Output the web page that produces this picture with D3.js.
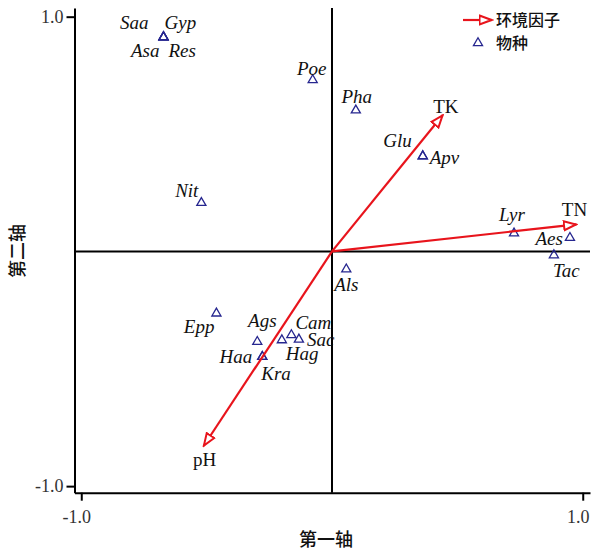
<!DOCTYPE html>
<html>
<head>
<meta charset="utf-8">
<script src="https://cdn.jsdelivr.net/npm/d3@7"></script>
<style>
  body { margin: 0; background: #fff; }
  svg { display: block; }
  .tick text { font-family: "Liberation Serif", "DejaVu Serif", serif; font-size: 18px; fill: #333; }
  .sp { font-family: "Liberation Serif", serif; font-style: italic; font-size: 19px; fill: #111; }
  .env { font-family: "Liberation Serif", serif; font-size: 19px; fill: #111; }
  .cjk { font-family: "Noto Sans CJK SC", sans-serif; font-weight: 500; fill: #111; }
</style>
</head>
<body>
<div id="chart"></div>
<script>
// species scores (axis 1, axis 2)
var species = ["Saa", "Gyp", "Asa", "Res", "Poe", "Pha", "Glu", "Apv", "Nit", "Als",
               "Lyr", "Aes", "Tac", "Epp", "Ags", "Haa", "Hag", "Cam", "Sac", "Kra"];
var speciesX = [-0.672, -0.672, -0.672, -0.672, -0.077, 0.095, 0.362, 0.362, -0.521, 0.057,
                0.726, 0.949, 0.885, -0.461, -0.298, -0.278, -0.200, -0.162, -0.132, -0.278];
var speciesY = [0.913, 0.913, 0.913, 0.913, 0.730, 0.601, 0.406, 0.406, 0.207, -0.076,
                0.077, 0.058, -0.016, -0.264, -0.385, -0.449, -0.378, -0.356, -0.375, -0.449];

// environmental factor vectors
var factors = ["TK", "TN", "pH"];
var factorX = [0.442, 0.975, -0.512];
var factorY = [0.581, 0.115, -0.829];

var tickValues = [-1, 1];
var xTitle = "第一轴", yTitle = "第二轴";
var legendLabels = ["环境因子", "物种"];

// label placement around each point: [dx, dy, anchor]
var spLabelPos = {
  Saa: [-15, -8, "end"], Gyp: [1, -8, "start"], Asa: [-4, 20, "end"], Res: [5, 20, "start"],
  Poe: [-1, -5, "middle"], Pha: [1, -7, "middle"], Glu: [-11, -9, "end"], Apv: [7, 8, "start"],
  Nit: [-3, -6, "end"], Als: [0, 22, "middle"], Lyr: [-2, -12, "middle"], Aes: [-7, 7, "end"],
  Tac: [-1, 22, "start"], Epp: [-2, 20, "end"], Ags: [5, -15, "middle"], Haa: [-10, 6, "end"],
  Hag: [4, 20, "start"], Cam: [4, -6, "start"], Sac: [8, 7, "start"], Kra: [-1, 23, "start"]
};
var envLabelPos = { TK: [3, -2, "middle"], TN: [-2, -8, "middle"], pH: [1, 20, "middle"] };

var width = 592, height = 553;
var red = "#e8141c", navy = "#26268f";

var svg = d3.select("#chart").append("svg")
    .attr("width", width)
    .attr("height", height);

svg.append("defs").append("marker")
    .attr("id", "head")
    .attr("markerUnits", "userSpaceOnUse")
    .attr("viewBox", "-1 -6 15 12")
    .attr("markerWidth", 15)
    .attr("markerHeight", 12)
    .attr("refX", 12.5)
    .attr("refY", 0)
    .attr("orient", "auto")
  .append("path")
    .attr("d", "M0,-4.5L12,0L0,4.5Z")
    .attr("fill", "#fff")
    .attr("stroke", red)
    .attr("stroke-width", 2);

var x = d3.scaleLinear().domain([-1.027, 1.029]).range([74.5, 590]);
var y = d3.scaleLinear().domain([-1.028, 1.037]).range([492.7, 8]);

var fmt = function(d){ return d.toFixed(1); };

var gx = svg.append("g")
    .attr("transform", "translate(0," + y.range()[0] + ")")
    .call(d3.axisBottom(x).tickValues(tickValues).tickFormat(fmt).tickSize(8).tickSizeOuter(0).tickPadding(10));
gx.selectAll(".tick text").attr("dx", -5);
var gy = svg.append("g")
    .attr("transform", "translate(" + x.range()[0] + ",0)")
    .call(d3.axisLeft(y).tickValues(tickValues).tickFormat(fmt).tickSize(8).tickSizeOuter(0).tickPadding(3));
[gx, gy].forEach(function(g){
    g.selectAll(".domain, .tick line").attr("stroke", "#000").attr("stroke-width", 2);
});

// zero lines
svg.append("line")
    .attr("x1", x(0)).attr("x2", x(0))
    .attr("y1", y.range()[1]).attr("y2", y.range()[0])
    .attr("stroke", "#000").attr("stroke-width", 2);
svg.append("line")
    .attr("x1", x.range()[0]).attr("x2", x.range()[1])
    .attr("y1", y(0)).attr("y2", y(0))
    .attr("stroke", "#000").attr("stroke-width", 2);

// axis titles
svg.append("text").attr("class", "cjk")
    .attr("x", 326).attr("y", 546)
    .attr("text-anchor", "middle")
    .style("font-size", "18px")
    .text(xTitle);
svg.append("text").attr("class", "cjk")
    .attr("transform", "translate(24,251) rotate(-90)")
    .attr("text-anchor", "middle")
    .style("font-size", "18px")
    .text(yTitle);

// species
var sym = d3.symbol().type(d3.symbolTriangle).size(36);
var spData = species.map(function(s, i){ return { name: s, x: speciesX[i], y: speciesY[i] }; });

svg.append("g").selectAll("path")
    .data(spData)
    .join("path")
    .attr("d", sym)
    .attr("transform", function(d){ return "translate(" + x(d.x) + "," + y(d.y) + ")"; })
    .attr("fill", "none")
    .attr("stroke", navy)
    .attr("stroke-width", 1.3);

// env arrows
var envData = factors.map(function(f, i){ return { name: f, x: factorX[i], y: factorY[i] }; });
svg.append("g").selectAll("line")
    .data(envData)
    .join("line")
    .attr("x1", x(0)).attr("y1", y(0))
    .attr("x2", function(d){ return x(d.x); })
    .attr("y2", function(d){ return y(d.y); })
    .attr("stroke", red)
    .attr("stroke-width", 2.2)
    .attr("marker-end", "url(#head)");

svg.append("g").selectAll("text")
    .data(spData)
    .join("text")
    .attr("class", "sp")
    .attr("x", function(d){ return x(d.x) + spLabelPos[d.name][0]; })
    .attr("y", function(d){ return y(d.y) + spLabelPos[d.name][1]; })
    .attr("text-anchor", function(d){ return spLabelPos[d.name][2]; })
    .text(function(d){ return d.name; });

svg.append("g").selectAll("text")
    .data(envData)
    .join("text")
    .attr("class", "env")
    .attr("x", function(d){ return x(d.x) + envLabelPos[d.name][0]; })
    .attr("y", function(d){ return y(d.y) + envLabelPos[d.name][1]; })
    .attr("text-anchor", function(d){ return envLabelPos[d.name][2]; })
    .text(function(d){ return d.name; });

// legend
var lg = svg.append("g").attr("transform", "translate(463,20)");
lg.append("line")
    .attr("x1", 0).attr("x2", 29).attr("y1", 0).attr("y2", 0)
    .attr("stroke", red).attr("stroke-width", 2.2)
    .attr("marker-end", "url(#head)");
lg.append("path")
    .attr("d", sym)
    .attr("transform", "translate(15,23)")
    .attr("fill", "none").attr("stroke", navy).attr("stroke-width", 1.3);
lg.selectAll("text.cjk")
    .data(legendLabels)
    .join("text")
    .attr("class", "cjk")
    .attr("x", 33)
    .attr("y", function(d, i){ return i * 23 + 6; })
    .style("font-size", "16px")
    .text(function(d){ return d; });
</script>
</body>
</html>
